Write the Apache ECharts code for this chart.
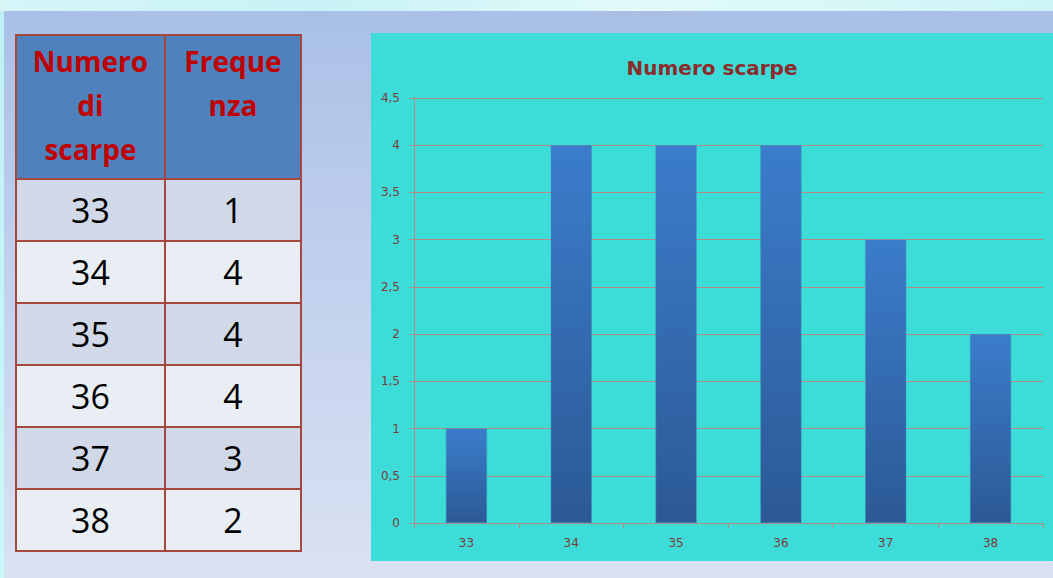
<!DOCTYPE html>
<html>
<head>
<meta charset="utf-8">
<script src="https://cdn.jsdelivr.net/npm/echarts@6/dist/echarts.min.js"></script>
<style>
  html, body { margin: 0; padding: 0; }
  body {
    width: 1053px; height: 578px; overflow: hidden; position: relative;
    background: linear-gradient(to bottom, #a9bfe6 0%, #c3d1ee 50%, #dae2f2 100%);
    font-family: "Open Sans", sans-serif;
  }
  #topstrip { position: absolute; left: 0; top: 0; width: 1053px; height: 11px;
    background: linear-gradient(to right, #d6f6f8, #c8f2f6 30%, #e2fafa 60%, #cdf4f6); }
  #leftstrip { position: absolute; left: 0; top: 11px; width: 4px; height: 567px;
    background: linear-gradient(to bottom, #bff0f4, #c8f8f8); }
  #tbl { position: absolute; left: 15px; top: 34px; border-collapse: collapse; }
  #tbl th, #tbl td { border: 2px solid #a3473f; padding: 0; text-align: center; }
  #tbl th { background: #4f81bd; color: #c00000; font-weight: bold; font-size: 28px;
    font-family: "Open Sans", sans-serif;
    line-height: 44px; height: 144px; vertical-align: top; white-space: pre-line; padding-top: 3px; box-sizing: border-box; }
  #tbl td { font-family: "Open Sans", sans-serif; font-size: 34px; color: #000; height: 62px; box-sizing: border-box; line-height: 58px; }
  #tbl tr.odd td { background: #d1d8e7; }
  #tbl tr.even td { background: #e9edf4; }
  #chart { position: absolute; left: 371px; top: 33px; width: 682px; height: 528px; }
</style>
</head>
<body>
<div id="topstrip"></div>
<div id="leftstrip"></div>
<table id="tbl"></table>
<div id="chart"></div>
<script>
const chartTitle = "Numero scarpe";
const tableHeaders = ["Numero\ndi\nscarpe", "Freque\nnza"];
const shoeSizes = ["33", "34", "35", "36", "37", "38"];
const frequencies = [1, 4, 4, 4, 3, 2];
const yTicks = [0, 0.5, 1, 1.5, 2, 2.5, 3, 3.5, 4, 4.5];

// Build table
const tbl = document.getElementById('tbl');
const colWidths = [149, 136];
let html = '<tr>' + tableHeaders.map((h, i) => '<th style="width:' + colWidths[i] + 'px">' + h + '</th>').join('') + '</tr>';
shoeSizes.forEach((s, i) => {
  html += '<tr class="' + (i % 2 === 0 ? 'odd' : 'even') + '"><td>' + s + '</td><td>' + frequencies[i] + '</td></tr>';
});
tbl.innerHTML = html;

const chart = echarts.init(document.getElementById('chart'), null, { renderer: 'svg' });
const gridColor = '#b58a86';
const labelColor = '#7b3d3a';
const chartFont = '"DejaVu Sans", sans-serif';
chart.setOption({
  backgroundColor: '#3ddcd8',
  animation: false,
  title: {
    text: chartTitle, left: 'center', top: 20,
    textStyle: { color: '#8c2b2b', fontSize: 20, fontWeight: 'bold', fontFamily: chartFont }
  },
  grid: { left: 43, right: 10, top: 65, bottom: 38 },
  xAxis: {
    type: 'category', data: shoeSizes,
    axisLine: { lineStyle: { color: gridColor, width: 1 } },
    axisTick: { show: true, length: 5, lineStyle: { color: gridColor } },
    axisLabel: { color: labelColor, fontSize: 12, margin: 14, fontFamily: chartFont }
  },
  yAxis: {
    type: 'value', min: yTicks[0], max: yTicks[yTicks.length - 1], interval: 0.5,
    axisLine: { show: true, lineStyle: { color: gridColor, width: 1 } },
    axisTick: { show: true, length: 5, lineStyle: { color: gridColor } },
    splitLine: { show: true, lineStyle: { color: gridColor, width: 1 } },
    axisLabel: { color: labelColor, fontSize: 12, margin: 14, fontFamily: chartFont,
      formatter: v => String(v).replace('.', ',') }
  },
  series: [{
    type: 'bar', data: frequencies, barWidth: 41,
    itemStyle: {
      color: new echarts.graphic.LinearGradient(0, 0, 0, 1, [
        { offset: 0, color: '#3b7dcb' },
        { offset: 1, color: '#2c5995' }
      ]),
      borderColor: '#3a8fb8', borderWidth: 0.5
    }
  }]
});
</script>
</body>
</html>
